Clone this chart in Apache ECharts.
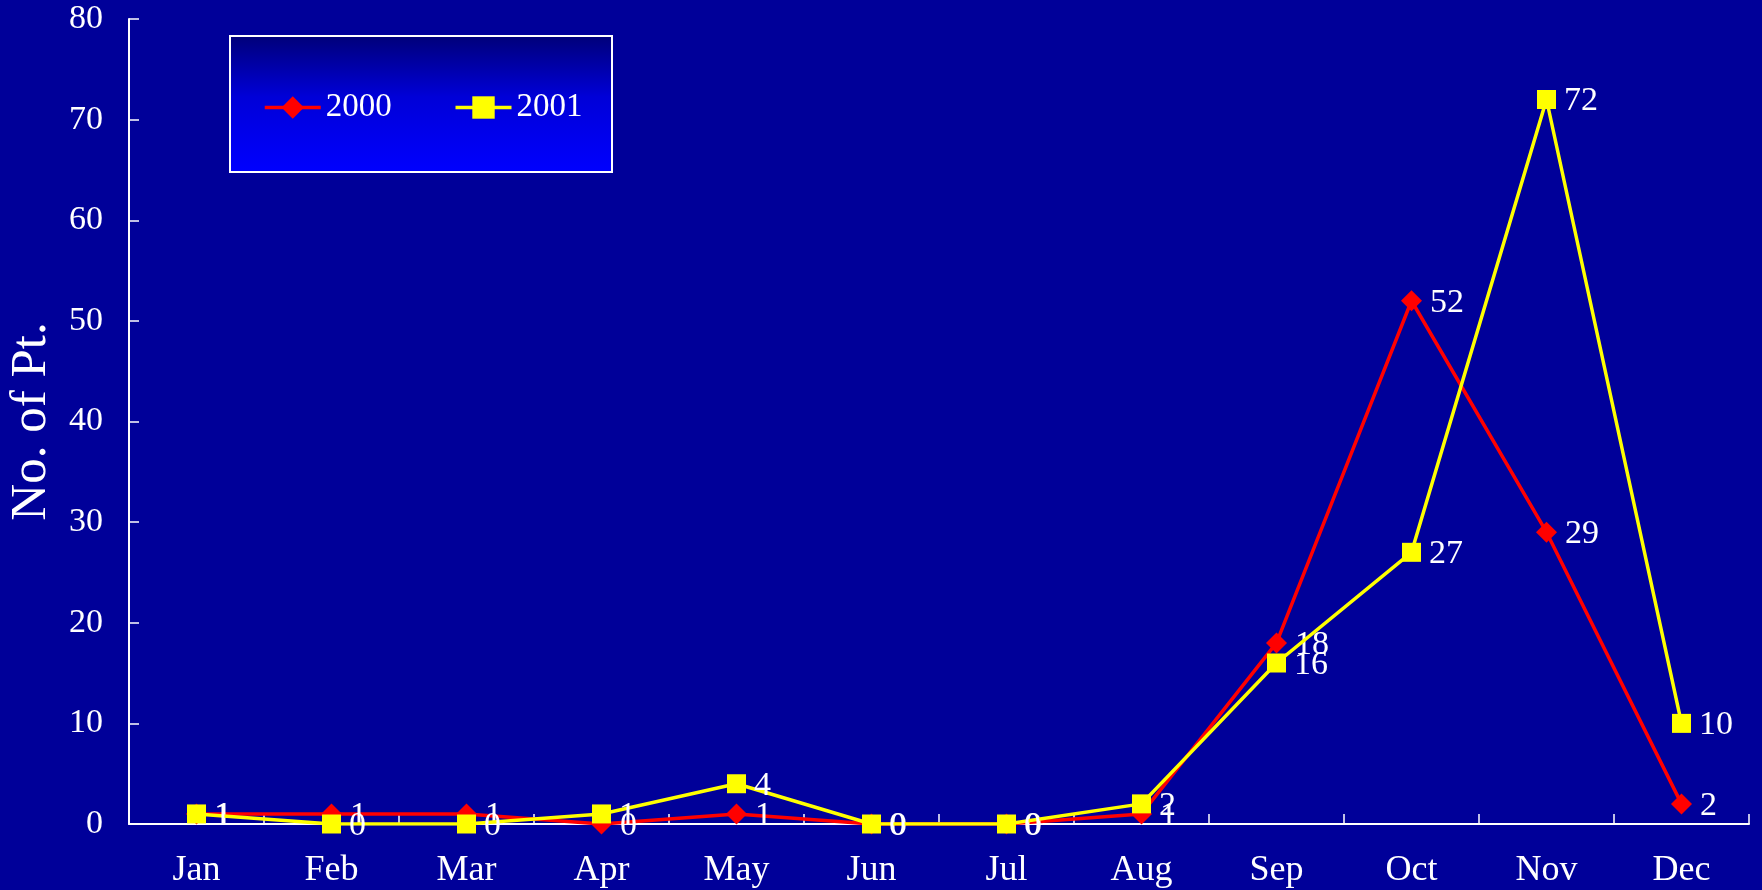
<!DOCTYPE html>
<html>
<head>
<meta charset="utf-8">
<style>
  html, body { margin: 0; padding: 0; background: #000099; }
  #chart { width: 1762px; height: 890px; }
</style>
<script src="https://cdn.jsdelivr.net/npm/echarts@6/dist/echarts.min.js"></script>
</head>
<body>
<div id="chart"></div>
<script>
// Monthly patient counts for two years
const months = ['Jan', 'Feb', 'Mar', 'Apr', 'May', 'Jun', 'Jul', 'Aug', 'Sep', 'Oct', 'Nov', 'Dec'];
const cases2000 = [1, 1, 1, 0, 1, 0, 0, 1, 18, 52, 29, 2];
const cases2001 = [1, 0, 0, 1, 4, 0, 0, 2, 16, 27, 72, 10];
const yTicks = { min: 0, max: 80, interval: 10 };

const FONT = '"Liberation Serif", "DejaVu Serif", serif';

const chart = echarts.init(document.getElementById('chart'), null, { renderer: 'canvas' });

const labelStyle = {
  show: true,
  position: 'right',
  distance: 8,
  offset: [0, 2],
  color: '#ffffff',
  fontFamily: FONT,
  fontSize: 34
};

chart.setOption({
  backgroundColor: '#000099',
  animation: false,
  grid: { left: 129, right: 13, top: 19, bottom: 66, containLabel: false, outerBoundsMode: 'none' },
  graphic: [{
    type: 'rect',
    z: 1,
    shape: { x: 230, y: 36, width: 382, height: 136 },
    style: {
      fill: new echarts.graphic.LinearGradient(0, 0, 0, 1, [
        { offset: 0, color: '#000078' },
        { offset: 0.45, color: '#0000d8' },
        { offset: 1, color: '#0000ff' }
      ]),
      stroke: '#ffffff',
      lineWidth: 2
    }
  }],
  legend: {
    z: 5,
    left: 263,
    top: 91,
    padding: 0,
    itemWidth: 56,
    itemHeight: 28,
    itemGap: 62,
    lineStyle: { width: 3.5 },
    textStyle: { color: '#ffffff', fontFamily: FONT, fontSize: 33 },
    data: ['2000', '2001']
  },
  xAxis: {
    type: 'category',
    data: months,
    boundaryGap: true,
    axisLine: { lineStyle: { color: '#ffffff', width: 2 } },
    axisTick: { show: true, inside: true, length: 10, alignWithLabel: false, lineStyle: { color: '#ffffff', width: 1.5 } },
    axisLabel: { color: '#ffffff', fontFamily: FONT, fontSize: 36, margin: 29 },
    splitLine: { show: false }
  },
  yAxis: {
    type: 'value',
    min: yTicks.min,
    max: yTicks.max,
    interval: yTicks.interval,
    name: 'No. of Pt.',
    nameLocation: 'middle',
    nameGap: 72,
    nameRotate: 90,
    nameTextStyle: { color: '#ffffff', fontFamily: FONT, fontSize: 51 },
    axisLine: { show: true, lineStyle: { color: '#ffffff', width: 2 } },
    axisTick: { show: true, inside: true, length: 10, lineStyle: { color: '#ffffff', width: 1.5 } },
    axisLabel: { color: '#ffffff', fontFamily: FONT, fontSize: 34, margin: 26 },
    splitLine: { show: false }
  },
  series: [
    {
      name: '2000',
      type: 'line',
      data: cases2000,
      symbol: 'diamond',
      symbolSize: 21,
      lineStyle: { color: '#ff0000', width: 3.5 },
      itemStyle: { color: '#ff0000' },
      label: labelStyle,
      z: 2
    },
    {
      name: '2001',
      type: 'line',
      data: cases2001,
      symbol: 'rect',
      symbolSize: 19,
      lineStyle: { color: '#ffff00', width: 3.5 },
      itemStyle: { color: '#ffff00' },
      label: labelStyle,
      z: 3
    }
  ]
});
</script>
</body>
</html>
